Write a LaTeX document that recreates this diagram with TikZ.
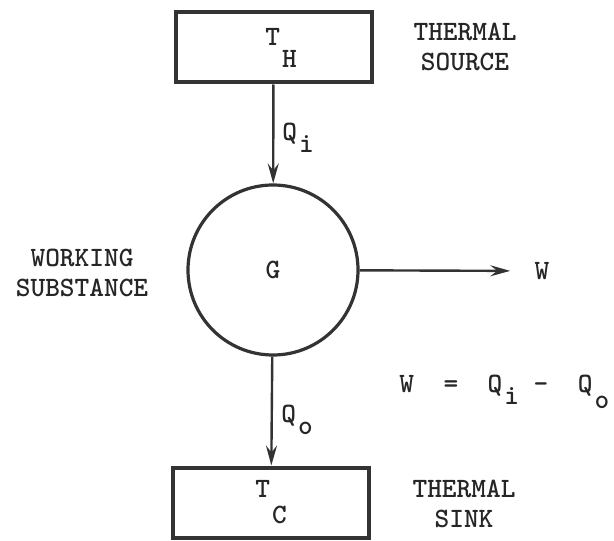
\documentclass[tikz,border=0pt]{standalone}
\usepackage{tikz}
\usetikzlibrary{arrows.meta,positioning}
\newcommand{\subdrop}[2][6pt]{\kern1pt\raisebox{-#1}{#2}}
\tikzset{
  txt/.style    ={font=\ttfamily\bfseries\fontsize{14}{15}\selectfont, text=black!85},
  res/.style    ={rectangle, draw=black!80, line width=2pt, minimum width=98pt,
                  minimum height=35pt, txt},
  gas/.style    ={circle, draw=black!80, line width=1.6pt, minimum size=85pt, txt},
  lbl/.style    ={txt, align=center, inner sep=0pt},
  fl/.style     ={-{Stealth[length=10pt,width=5.5pt,inset=3.5pt]}, draw=black!80, line width=1.2pt},
}
\begin{document}
\begin{tikzpicture}[x=0.5pt,y=-0.5pt]
  \useasboundingbox (0,0) rectangle (614,540);
  % reservoirs and engine
  \node[res] (hot) at (273.5,47.5) {};
  \node[txt] (th) at (281,47.5) {T\subdrop[11pt]{H}};
  \node[gas] (eng) at (273,270) {G};
  \node[res] (cold) at (271,502.5) {T\subdrop[13pt]{C}};
  % side texts
  \node[lbl] (src) at (465,47) {THERMAL\\SOURCE};
  \node[lbl] (ws) at (82,272.5) {WORKING\\SUBSTANCE};
  \node[lbl] (snk) at (464,504) {THERMAL\\SINK};
  \node[lbl] (w) at (542,271) {W};
  \node[lbl,anchor=base west] (bal) at (399,392) {W~~=~~Q\subdrop{i}~-~~Q\subdrop[8pt]{o}};
  % heat flow labels
  \node[lbl,anchor=base west] (qi) at (282,140) {Q\subdrop{i}};
  \node[lbl,anchor=base west] (qo) at (281,422) {Q\subdrop[6pt]{o}};
  \draw[fl](hot)--(eng);
  \draw[fl](eng)--(cold);
  \draw[fl,shorten >=12pt](eng)--(w);
\end{tikzpicture}
\end{document}
